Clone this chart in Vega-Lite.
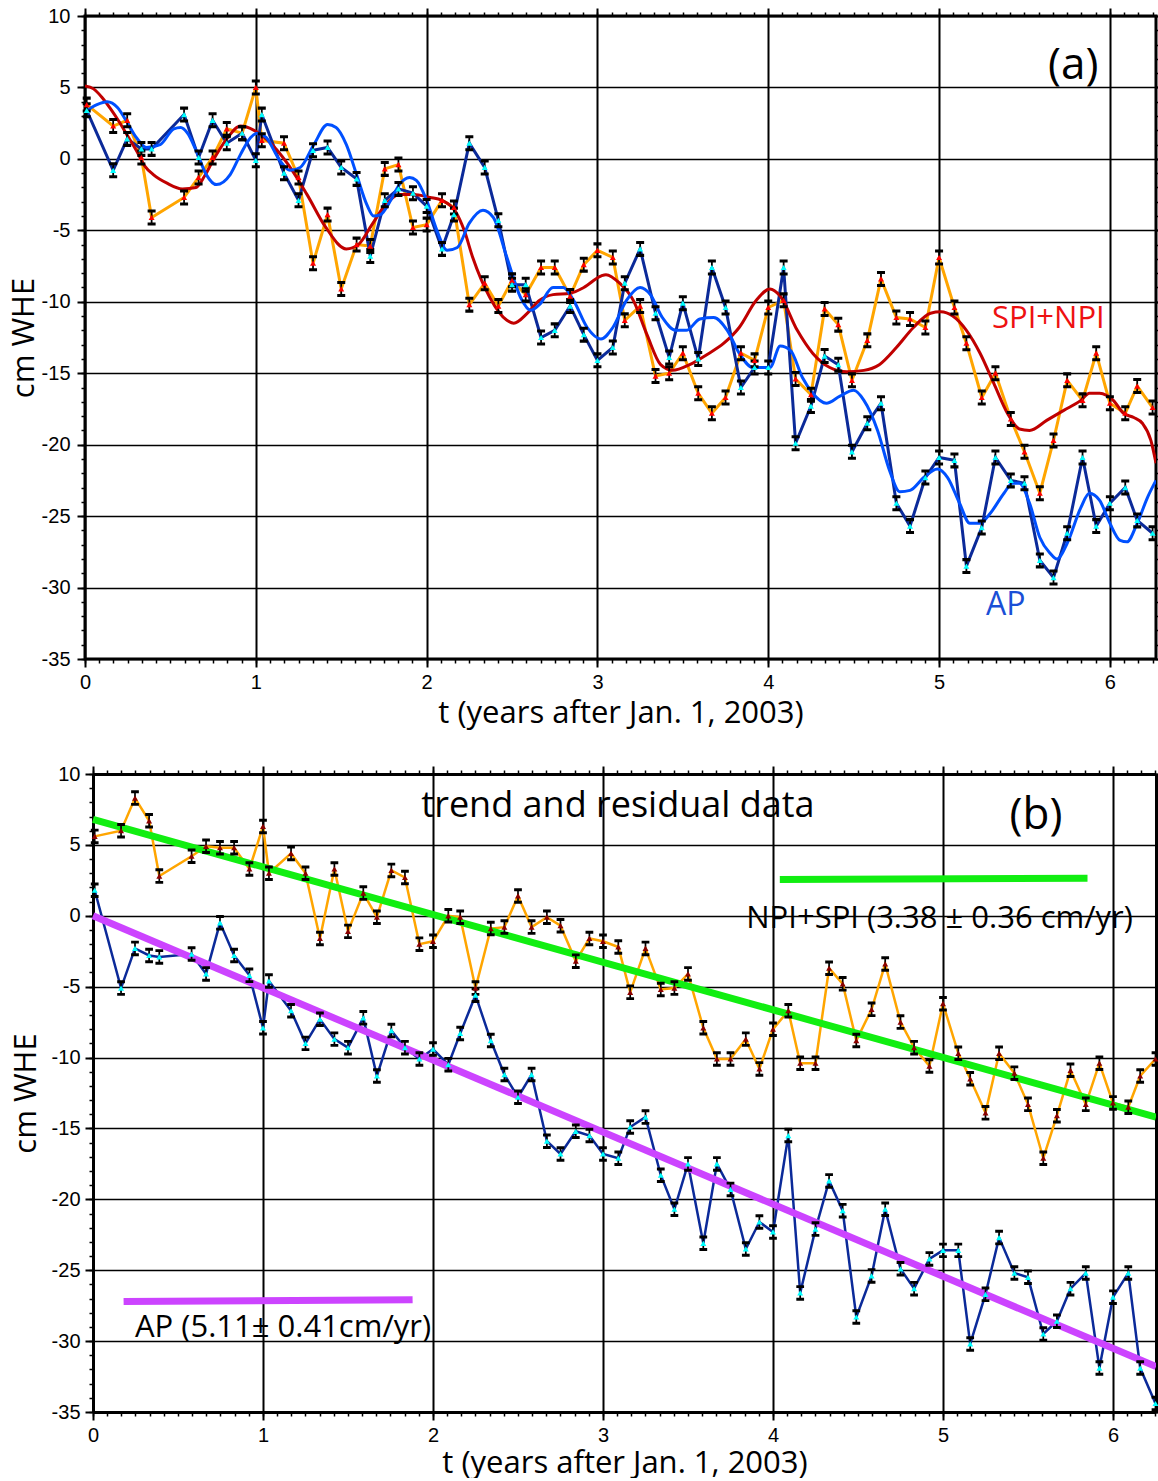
{
  "$schema": "https://vega.github.io/schema/vega-lite/v6.json",
  "background": "white",
  "padding": {"left": 6, "top": 4, "right": 0, "bottom": 0},
  "columns": 1,
  "spacing": 34,
  "config": {
    "view": {"stroke": "black", "strokeWidth": 3},
    "axis": {
      "domain": false, "tickColor": "black", "tickWidth": 2, "gridColor": "black", "gridOpacity": 1,
      "labelFont": "Liberation Sans", "labelFontSize": 20, "labelColor": "black", "labelFlush": false, "labelOverlap": false,
      "titleFont": "Open Sans", "titleFontSize": 31, "titleFontWeight": "normal", "titleColor": "black"
    }
  },
  "datasets": {
    "a_obs": [
      {"t":0.01,"s":"SPI+NPI","v":3.8},{"t":0.165,"s":"SPI+NPI","v":2.3},{"t":0.247,"s":"SPI+NPI","v":2.7},{"t":0.33,"s":"SPI+NPI","v":0.1},{"t":0.39,"s":"SPI+NPI","v":-4.1},{"t":0.58,"s":"SPI+NPI","v":-2.7},{"t":0.665,"s":"SPI+NPI","v":-1.3},{"t":0.747,"s":"SPI+NPI","v":0.1},{"t":0.83,"s":"SPI+NPI","v":2.1},{"t":0.92,"s":"SPI+NPI","v":1.8},
      {"t":1.0,"s":"SPI+NPI","v":5.0},{"t":1.035,"s":"SPI+NPI","v":1.3},{"t":1.165,"s":"SPI+NPI","v":1.1},{"t":1.25,"s":"SPI+NPI","v":-1.3},{"t":1.335,"s":"SPI+NPI","v":-7.3},{"t":1.42,"s":"SPI+NPI","v":-3.9},{"t":1.5,"s":"SPI+NPI","v":-9.1},{"t":1.59,"s":"SPI+NPI","v":-6.0},{"t":1.67,"s":"SPI+NPI","v":-6.1},{"t":1.755,"s":"SPI+NPI","v":-0.7},
      {"t":1.835,"s":"SPI+NPI","v":-0.4},{"t":1.92,"s":"SPI+NPI","v":-4.8},{"t":2.0,"s":"SPI+NPI","v":-4.6},{"t":2.09,"s":"SPI+NPI","v":-2.9},{"t":2.16,"s":"SPI+NPI","v":-3.4},{"t":2.25,"s":"SPI+NPI","v":-10.2},{"t":2.34,"s":"SPI+NPI","v":-8.7},{"t":2.42,"s":"SPI+NPI","v":-10.3},{"t":2.5,"s":"SPI+NPI","v":-8.5},{"t":2.58,"s":"SPI+NPI","v":-9.5},
      {"t":2.67,"s":"SPI+NPI","v":-7.6},{"t":2.75,"s":"SPI+NPI","v":-7.6},{"t":2.84,"s":"SPI+NPI","v":-9.6},{"t":2.92,"s":"SPI+NPI","v":-7.4},{"t":3.0,"s":"SPI+NPI","v":-6.4},{"t":3.09,"s":"SPI+NPI","v":-6.9},{"t":3.16,"s":"SPI+NPI","v":-11.3},{"t":3.25,"s":"SPI+NPI","v":-10.3},{"t":3.34,"s":"SPI+NPI","v":-15.2},{"t":3.42,"s":"SPI+NPI","v":-15.0},
      {"t":3.5,"s":"SPI+NPI","v":-13.6},{"t":3.59,"s":"SPI+NPI","v":-16.4},{"t":3.67,"s":"SPI+NPI","v":-17.8},{"t":3.75,"s":"SPI+NPI","v":-16.7},{"t":3.84,"s":"SPI+NPI","v":-13.6},{"t":3.92,"s":"SPI+NPI","v":-14.1},{"t":4.0,"s":"SPI+NPI","v":-10.4},{"t":4.09,"s":"SPI+NPI","v":-9.9},{"t":4.16,"s":"SPI+NPI","v":-15.4},{"t":4.25,"s":"SPI+NPI","v":-16.5},
      {"t":4.33,"s":"SPI+NPI","v":-10.5},{"t":4.41,"s":"SPI+NPI","v":-11.6},{"t":4.49,"s":"SPI+NPI","v":-15.5},{"t":4.58,"s":"SPI+NPI","v":-12.7},{"t":4.66,"s":"SPI+NPI","v":-8.4},{"t":4.75,"s":"SPI+NPI","v":-11.1},{"t":4.83,"s":"SPI+NPI","v":-11.2},{"t":4.92,"s":"SPI+NPI","v":-11.8},{"t":5.0,"s":"SPI+NPI","v":-6.9},{"t":5.09,"s":"SPI+NPI","v":-10.4},
      {"t":5.16,"s":"SPI+NPI","v":-12.9},{"t":5.25,"s":"SPI+NPI","v":-16.7},{"t":5.33,"s":"SPI+NPI","v":-15.0},{"t":5.42,"s":"SPI+NPI","v":-18.2},{"t":5.5,"s":"SPI+NPI","v":-20.5},{"t":5.59,"s":"SPI+NPI","v":-23.4},{"t":5.67,"s":"SPI+NPI","v":-19.7},{"t":5.75,"s":"SPI+NPI","v":-15.5},{"t":5.84,"s":"SPI+NPI","v":-16.9},{"t":5.92,"s":"SPI+NPI","v":-13.6},
      {"t":6.0,"s":"SPI+NPI","v":-17.1},{"t":6.09,"s":"SPI+NPI","v":-17.8},{"t":6.16,"s":"SPI+NPI","v":-15.9},{"t":6.25,"s":"SPI+NPI","v":-17.4},
      {"t":0.01,"s":"AP","v":3.4},{"t":0.165,"s":"AP","v":-0.8},{"t":0.247,"s":"AP","v":1.4},{"t":0.33,"s":"AP","v":0.7},{"t":0.39,"s":"AP","v":0.7},{"t":0.58,"s":"AP","v":3.1},{"t":0.665,"s":"AP","v":0.1},{"t":0.747,"s":"AP","v":2.7},{"t":0.83,"s":"AP","v":1.1},{"t":0.92,"s":"AP","v":1.8},
      {"t":1.0,"s":"AP","v":-0.1},{"t":1.035,"s":"AP","v":3.1},{"t":1.165,"s":"AP","v":-1.0},{"t":1.25,"s":"AP","v":-2.9},{"t":1.335,"s":"AP","v":0.6},{"t":1.42,"s":"AP","v":0.8},{"t":1.5,"s":"AP","v":-0.6},{"t":1.59,"s":"AP","v":-1.4},{"t":1.67,"s":"AP","v":-6.8},{"t":1.755,"s":"AP","v":-2.9},
      {"t":1.835,"s":"AP","v":-2.1},{"t":1.92,"s":"AP","v":-2.4},{"t":2.0,"s":"AP","v":-3.3},{"t":2.09,"s":"AP","v":-6.3},{"t":2.16,"s":"AP","v":-3.9},{"t":2.25,"s":"AP","v":1.1},{"t":2.34,"s":"AP","v":-0.6},{"t":2.42,"s":"AP","v":-4.3},{"t":2.5,"s":"AP","v":-8.8},{"t":2.58,"s":"AP","v":-8.8},
      {"t":2.67,"s":"AP","v":-12.5},{"t":2.75,"s":"AP","v":-12.0},{"t":2.84,"s":"AP","v":-10.3},{"t":2.92,"s":"AP","v":-12.3},{"t":3.0,"s":"AP","v":-14.1},{"t":3.09,"s":"AP","v":-13.2},{"t":3.16,"s":"AP","v":-8.7},{"t":3.25,"s":"AP","v":-6.3},{"t":3.34,"s":"AP","v":-10.8},{"t":3.42,"s":"AP","v":-13.9},
      {"t":3.5,"s":"AP","v":-10.1},{"t":3.59,"s":"AP","v":-14.0},{"t":3.67,"s":"AP","v":-7.6},{"t":3.75,"s":"AP","v":-10.4},{"t":3.84,"s":"AP","v":-16.0},{"t":3.92,"s":"AP","v":-14.6},{"t":4.0,"s":"AP","v":-14.6},{"t":4.09,"s":"AP","v":-7.6},{"t":4.16,"s":"AP","v":-19.9},{"t":4.25,"s":"AP","v":-17.3},
      {"t":4.33,"s":"AP","v":-13.8},{"t":4.41,"s":"AP","v":-14.4},{"t":4.49,"s":"AP","v":-20.5},{"t":4.58,"s":"AP","v":-18.5},{"t":4.66,"s":"AP","v":-17.1},{"t":4.75,"s":"AP","v":-24.1},{"t":4.83,"s":"AP","v":-25.7},{"t":4.92,"s":"AP","v":-22.3},{"t":5.0,"s":"AP","v":-20.9},{"t":5.09,"s":"AP","v":-21.1},
      {"t":5.16,"s":"AP","v":-28.5},{"t":5.25,"s":"AP","v":-25.8},{"t":5.33,"s":"AP","v":-20.9},{"t":5.42,"s":"AP","v":-22.5},{"t":5.5,"s":"AP","v":-22.7},{"t":5.59,"s":"AP","v":-28.1},{"t":5.67,"s":"AP","v":-29.3},{"t":5.75,"s":"AP","v":-26.2},{"t":5.84,"s":"AP","v":-20.9},{"t":5.92,"s":"AP","v":-25.7},
      {"t":6.0,"s":"AP","v":-24.1},{"t":6.09,"s":"AP","v":-23.0},{"t":6.16,"s":"AP","v":-25.3},{"t":6.25,"s":"AP","v":-26.2}
    ],
    "a_smooth": [
      {"t":0.0,"s":"SPI+NPI","v":5.1},{"t":0.05,"s":"SPI+NPI","v":4.9},{"t":0.1,"s":"SPI+NPI","v":4.3},{"t":0.15,"s":"SPI+NPI","v":3.5},{"t":0.2,"s":"SPI+NPI","v":2.6},{"t":0.25,"s":"SPI+NPI","v":1.6},{"t":0.3,"s":"SPI+NPI","v":0.6},{"t":0.35,"s":"SPI+NPI","v":-0.5},{"t":0.4,"s":"SPI+NPI","v":-1.1},{"t":0.48,"s":"SPI+NPI","v":-1.7},
      {"t":0.57,"s":"SPI+NPI","v":-2.1},{"t":0.65,"s":"SPI+NPI","v":-2.0},{"t":0.7,"s":"SPI+NPI","v":-1.2},{"t":0.75,"s":"SPI+NPI","v":-0.1},{"t":0.83,"s":"SPI+NPI","v":1.4},{"t":0.91,"s":"SPI+NPI","v":2.3},{"t":0.99,"s":"SPI+NPI","v":2.0},{"t":1.07,"s":"SPI+NPI","v":1.3},{"t":1.19,"s":"SPI+NPI","v":-0.4},{"t":1.3,"s":"SPI+NPI","v":-2.5},
      {"t":1.41,"s":"SPI+NPI","v":-4.8},{"t":1.53,"s":"SPI+NPI","v":-6.3},{"t":1.6,"s":"SPI+NPI","v":-6.0},{"t":1.68,"s":"SPI+NPI","v":-4.6},{"t":1.76,"s":"SPI+NPI","v":-3.2},{"t":1.84,"s":"SPI+NPI","v":-2.5},{"t":1.92,"s":"SPI+NPI","v":-2.5},{"t":2.02,"s":"SPI+NPI","v":-2.7},{"t":2.09,"s":"SPI+NPI","v":-2.9},{"t":2.17,"s":"SPI+NPI","v":-3.7},
      {"t":2.22,"s":"SPI+NPI","v":-5.0},{"t":2.27,"s":"SPI+NPI","v":-6.9},{"t":2.37,"s":"SPI+NPI","v":-9.7},{"t":2.47,"s":"SPI+NPI","v":-11.3},{"t":2.51,"s":"SPI+NPI","v":-11.5},{"t":2.59,"s":"SPI+NPI","v":-10.8},{"t":2.66,"s":"SPI+NPI","v":-9.9},{"t":2.74,"s":"SPI+NPI","v":-9.5},{"t":2.84,"s":"SPI+NPI","v":-9.4},{"t":2.92,"s":"SPI+NPI","v":-9.0},
      {"t":3.02,"s":"SPI+NPI","v":-8.2},{"t":3.05,"s":"SPI+NPI","v":-8.1},{"t":3.13,"s":"SPI+NPI","v":-8.7},{"t":3.21,"s":"SPI+NPI","v":-9.9},{"t":3.29,"s":"SPI+NPI","v":-12.3},{"t":3.37,"s":"SPI+NPI","v":-14.4},{"t":3.44,"s":"SPI+NPI","v":-14.8},{"t":3.54,"s":"SPI+NPI","v":-14.4},{"t":3.64,"s":"SPI+NPI","v":-13.7},{"t":3.74,"s":"SPI+NPI","v":-12.9},
      {"t":3.83,"s":"SPI+NPI","v":-11.8},{"t":3.93,"s":"SPI+NPI","v":-9.9},{"t":4.01,"s":"SPI+NPI","v":-9.1},{"t":4.07,"s":"SPI+NPI","v":-9.6},{"t":4.17,"s":"SPI+NPI","v":-12.0},{"t":4.26,"s":"SPI+NPI","v":-13.6},{"t":4.36,"s":"SPI+NPI","v":-14.6},{"t":4.46,"s":"SPI+NPI","v":-14.9},{"t":4.56,"s":"SPI+NPI","v":-14.8},{"t":4.65,"s":"SPI+NPI","v":-14.4},
      {"t":4.75,"s":"SPI+NPI","v":-13.2},{"t":4.85,"s":"SPI+NPI","v":-11.8},{"t":4.95,"s":"SPI+NPI","v":-10.8},{"t":5.01,"s":"SPI+NPI","v":-10.7},{"t":5.08,"s":"SPI+NPI","v":-11.0},{"t":5.16,"s":"SPI+NPI","v":-12.0},{"t":5.24,"s":"SPI+NPI","v":-13.6},{"t":5.32,"s":"SPI+NPI","v":-15.7},{"t":5.4,"s":"SPI+NPI","v":-17.8},{"t":5.47,"s":"SPI+NPI","v":-18.9},
      {"t":5.53,"s":"SPI+NPI","v":-19.0},{"t":5.63,"s":"SPI+NPI","v":-18.3},{"t":5.73,"s":"SPI+NPI","v":-17.6},{"t":5.83,"s":"SPI+NPI","v":-16.9},{"t":5.88,"s":"SPI+NPI","v":-16.4},{"t":5.94,"s":"SPI+NPI","v":-16.4},{"t":6.02,"s":"SPI+NPI","v":-16.9},{"t":6.08,"s":"SPI+NPI","v":-17.8},{"t":6.14,"s":"SPI+NPI","v":-18.1},{"t":6.19,"s":"SPI+NPI","v":-18.5},
      {"t":6.24,"s":"SPI+NPI","v":-19.7},{"t":6.27,"s":"SPI+NPI","v":-21.3},
      {"t":0.0,"s":"AP","v":3.3},{"t":0.07,"s":"AP","v":3.8},{"t":0.13,"s":"AP","v":4.0},{"t":0.19,"s":"AP","v":3.6},{"t":0.24,"s":"AP","v":2.7},{"t":0.3,"s":"AP","v":1.5},{"t":0.36,"s":"AP","v":0.8},{"t":0.44,"s":"AP","v":1.0},{"t":0.52,"s":"AP","v":2.1},{"t":0.56,"s":"AP","v":2.2},
      {"t":0.6,"s":"AP","v":1.8},{"t":0.65,"s":"AP","v":0.6},{"t":0.71,"s":"AP","v":-1.1},{"t":0.77,"s":"AP","v":-1.8},{"t":0.85,"s":"AP","v":-1.1},{"t":0.91,"s":"AP","v":0.3},{"t":0.97,"s":"AP","v":1.5},{"t":1.01,"s":"AP","v":1.8},{"t":1.06,"s":"AP","v":1.5},{"t":1.14,"s":"AP","v":-0.1},
      {"t":1.2,"s":"AP","v":-0.8},{"t":1.26,"s":"AP","v":-0.6},{"t":1.34,"s":"AP","v":1.0},{"t":1.42,"s":"AP","v":2.4},{"t":1.47,"s":"AP","v":2.2},{"t":1.53,"s":"AP","v":1.0},{"t":1.59,"s":"AP","v":-1.1},{"t":1.65,"s":"AP","v":-3.2},{"t":1.69,"s":"AP","v":-4.0},{"t":1.73,"s":"AP","v":-3.9},
      {"t":1.79,"s":"AP","v":-2.9},{"t":1.84,"s":"AP","v":-1.8},{"t":1.9,"s":"AP","v":-1.3},{"t":1.94,"s":"AP","v":-1.5},{"t":2.0,"s":"AP","v":-2.9},{"t":2.06,"s":"AP","v":-5.0},{"t":2.12,"s":"AP","v":-6.4},{"t":2.18,"s":"AP","v":-6.2},{"t":2.25,"s":"AP","v":-4.5},{"t":2.33,"s":"AP","v":-3.6},
      {"t":2.39,"s":"AP","v":-4.1},{"t":2.47,"s":"AP","v":-6.9},{"t":2.55,"s":"AP","v":-9.7},{"t":2.61,"s":"AP","v":-10.6},{"t":2.66,"s":"AP","v":-10.2},{"t":2.74,"s":"AP","v":-9.0},{"t":2.8,"s":"AP","v":-9.0},{"t":2.86,"s":"AP","v":-9.9},{"t":2.94,"s":"AP","v":-11.8},{"t":3.02,"s":"AP","v":-12.6},
      {"t":3.09,"s":"AP","v":-11.8},{"t":3.17,"s":"AP","v":-9.9},{"t":3.25,"s":"AP","v":-9.0},{"t":3.31,"s":"AP","v":-9.5},{"t":3.38,"s":"AP","v":-11.1},{"t":3.46,"s":"AP","v":-12.0},{"t":3.52,"s":"AP","v":-12.0},{"t":3.6,"s":"AP","v":-11.2},{"t":3.68,"s":"AP","v":-11.1},{"t":3.76,"s":"AP","v":-12.0},
      {"t":3.83,"s":"AP","v":-13.6},{"t":3.91,"s":"AP","v":-14.6},{"t":4.01,"s":"AP","v":-14.6},{"t":4.07,"s":"AP","v":-13.1},{"t":4.13,"s":"AP","v":-13.4},{"t":4.2,"s":"AP","v":-15.3},{"t":4.26,"s":"AP","v":-16.4},{"t":4.34,"s":"AP","v":-17.1},{"t":4.42,"s":"AP","v":-16.6},{"t":4.5,"s":"AP","v":-16.2},
      {"t":4.56,"s":"AP","v":-16.9},{"t":4.64,"s":"AP","v":-19.0},{"t":4.71,"s":"AP","v":-21.8},{"t":4.77,"s":"AP","v":-23.3},{"t":4.83,"s":"AP","v":-23.2},{"t":4.91,"s":"AP","v":-22.3},{"t":4.99,"s":"AP","v":-21.7},{"t":5.05,"s":"AP","v":-22.3},{"t":5.12,"s":"AP","v":-24.1},{"t":5.18,"s":"AP","v":-25.5},
      {"t":5.24,"s":"AP","v":-25.5},{"t":5.3,"s":"AP","v":-24.8},{"t":5.38,"s":"AP","v":-23.4},{"t":5.43,"s":"AP","v":-22.7},{"t":5.47,"s":"AP","v":-22.7},{"t":5.53,"s":"AP","v":-24.1},{"t":5.59,"s":"AP","v":-26.5},{"t":5.65,"s":"AP","v":-27.6},{"t":5.69,"s":"AP","v":-28.0},{"t":5.75,"s":"AP","v":-26.9},
      {"t":5.83,"s":"AP","v":-24.4},{"t":5.88,"s":"AP","v":-23.4},{"t":5.94,"s":"AP","v":-23.9},{"t":6.0,"s":"AP","v":-25.5},{"t":6.06,"s":"AP","v":-26.7},{"t":6.1,"s":"AP","v":-26.8},{"t":6.16,"s":"AP","v":-25.5},{"t":6.22,"s":"AP","v":-23.7},{"t":6.27,"s":"AP","v":-22.5}
    ],
    "b_obs": [
      {"t":0.01,"s":"SPI+NPI","v":5.6},{"t":0.165,"s":"SPI+NPI","v":6.0},{"t":0.247,"s":"SPI+NPI","v":8.3},{"t":0.33,"s":"SPI+NPI","v":6.7},{"t":0.39,"s":"SPI+NPI","v":2.8},{"t":0.58,"s":"SPI+NPI","v":4.2},{"t":0.665,"s":"SPI+NPI","v":4.9},{"t":0.747,"s":"SPI+NPI","v":4.8},{"t":0.83,"s":"SPI+NPI","v":4.8},{"t":0.92,"s":"SPI+NPI","v":3.3},
      {"t":1.0,"s":"SPI+NPI","v":6.3},{"t":1.035,"s":"SPI+NPI","v":3.0},{"t":1.165,"s":"SPI+NPI","v":4.4},{"t":1.25,"s":"SPI+NPI","v":3.0},{"t":1.335,"s":"SPI+NPI","v":-1.6},{"t":1.42,"s":"SPI+NPI","v":3.3},{"t":1.5,"s":"SPI+NPI","v":-1.1},{"t":1.59,"s":"SPI+NPI","v":1.6},{"t":1.67,"s":"SPI+NPI","v":-0.1},{"t":1.755,"s":"SPI+NPI","v":3.2},
      {"t":1.835,"s":"SPI+NPI","v":2.7},{"t":1.92,"s":"SPI+NPI","v":-2.0},{"t":2.0,"s":"SPI+NPI","v":-1.8},{"t":2.09,"s":"SPI+NPI","v":0.0},{"t":2.16,"s":"SPI+NPI","v":-0.1},{"t":2.25,"s":"SPI+NPI","v":-5.1},{"t":2.34,"s":"SPI+NPI","v":-0.9},{"t":2.42,"s":"SPI+NPI","v":-0.8},{"t":2.5,"s":"SPI+NPI","v":1.4},{"t":2.58,"s":"SPI+NPI","v":-0.8},
      {"t":2.67,"s":"SPI+NPI","v":-0.1},{"t":2.75,"s":"SPI+NPI","v":-0.7},{"t":2.84,"s":"SPI+NPI","v":-3.2},{"t":2.92,"s":"SPI+NPI","v":-1.6},{"t":3.0,"s":"SPI+NPI","v":-1.8},{"t":3.09,"s":"SPI+NPI","v":-2.2},{"t":3.16,"s":"SPI+NPI","v":-5.4},{"t":3.25,"s":"SPI+NPI","v":-2.3},{"t":3.34,"s":"SPI+NPI","v":-5.2},{"t":3.42,"s":"SPI+NPI","v":-5.1},
      {"t":3.5,"s":"SPI+NPI","v":-4.1},{"t":3.59,"s":"SPI+NPI","v":-7.9},{"t":3.67,"s":"SPI+NPI","v":-10.1},{"t":3.75,"s":"SPI+NPI","v":-10.1},{"t":3.84,"s":"SPI+NPI","v":-8.7},{"t":3.92,"s":"SPI+NPI","v":-10.8},{"t":4.0,"s":"SPI+NPI","v":-8.0},{"t":4.09,"s":"SPI+NPI","v":-6.7},{"t":4.16,"s":"SPI+NPI","v":-10.4},{"t":4.25,"s":"SPI+NPI","v":-10.4},
      {"t":4.33,"s":"SPI+NPI","v":-3.7},{"t":4.41,"s":"SPI+NPI","v":-4.8},{"t":4.49,"s":"SPI+NPI","v":-8.8},{"t":4.58,"s":"SPI+NPI","v":-6.6},{"t":4.66,"s":"SPI+NPI","v":-3.4},{"t":4.75,"s":"SPI+NPI","v":-7.5},{"t":4.83,"s":"SPI+NPI","v":-9.3},{"t":4.92,"s":"SPI+NPI","v":-10.6},{"t":5.0,"s":"SPI+NPI","v":-6.2},{"t":5.09,"s":"SPI+NPI","v":-9.7},
      {"t":5.16,"s":"SPI+NPI","v":-11.5},{"t":5.25,"s":"SPI+NPI","v":-13.9},{"t":5.33,"s":"SPI+NPI","v":-9.7},{"t":5.42,"s":"SPI+NPI","v":-11.1},{"t":5.5,"s":"SPI+NPI","v":-13.3},{"t":5.59,"s":"SPI+NPI","v":-17.1},{"t":5.67,"s":"SPI+NPI","v":-14.1},{"t":5.75,"s":"SPI+NPI","v":-10.9},{"t":5.84,"s":"SPI+NPI","v":-13.3},{"t":5.92,"s":"SPI+NPI","v":-10.4},
      {"t":6.0,"s":"SPI+NPI","v":-13.2},{"t":6.09,"s":"SPI+NPI","v":-13.5},{"t":6.16,"s":"SPI+NPI","v":-11.3},{"t":6.25,"s":"SPI+NPI","v":-10.1},
      {"t":0.01,"s":"AP","v":1.8},{"t":0.165,"s":"AP","v":-5.1},{"t":0.247,"s":"AP","v":-2.3},{"t":0.33,"s":"AP","v":-2.8},{"t":0.39,"s":"AP","v":-2.9},{"t":0.58,"s":"AP","v":-2.7},{"t":0.665,"s":"AP","v":-4.1},{"t":0.747,"s":"AP","v":-0.5},{"t":0.83,"s":"AP","v":-2.8},{"t":0.92,"s":"AP","v":-4.2},
      {"t":1.0,"s":"AP","v":-7.9},{"t":1.035,"s":"AP","v":-4.6},{"t":1.165,"s":"AP","v":-6.7},{"t":1.25,"s":"AP","v":-9.0},{"t":1.335,"s":"AP","v":-7.3},{"t":1.42,"s":"AP","v":-8.7},{"t":1.5,"s":"AP","v":-9.3},{"t":1.59,"s":"AP","v":-7.2},{"t":1.67,"s":"AP","v":-11.3},{"t":1.755,"s":"AP","v":-8.1},
      {"t":1.835,"s":"AP","v":-9.3},{"t":1.92,"s":"AP","v":-10.1},{"t":2.0,"s":"AP","v":-9.4},{"t":2.09,"s":"AP","v":-10.5},{"t":2.16,"s":"AP","v":-8.3},{"t":2.25,"s":"AP","v":-5.6},{"t":2.34,"s":"AP","v":-8.8},{"t":2.42,"s":"AP","v":-11.2},{"t":2.5,"s":"AP","v":-12.8},{"t":2.58,"s":"AP","v":-11.2},
      {"t":2.67,"s":"AP","v":-15.9},{"t":2.75,"s":"AP","v":-16.8},{"t":2.84,"s":"AP","v":-15.2},{"t":2.92,"s":"AP","v":-15.5},{"t":3.0,"s":"AP","v":-16.8},{"t":3.09,"s":"AP","v":-17.1},{"t":3.16,"s":"AP","v":-14.9},{"t":3.25,"s":"AP","v":-14.2},{"t":3.34,"s":"AP","v":-18.3},{"t":3.42,"s":"AP","v":-20.7},
      {"t":3.5,"s":"AP","v":-17.5},{"t":3.59,"s":"AP","v":-23.1},{"t":3.67,"s":"AP","v":-17.5},{"t":3.75,"s":"AP","v":-19.3},{"t":3.84,"s":"AP","v":-23.5},{"t":3.92,"s":"AP","v":-21.6},{"t":4.0,"s":"AP","v":-22.3},{"t":4.09,"s":"AP","v":-15.5},{"t":4.16,"s":"AP","v":-26.6},{"t":4.25,"s":"AP","v":-22.1},
      {"t":4.33,"s":"AP","v":-18.7},{"t":4.41,"s":"AP","v":-20.8},{"t":4.49,"s":"AP","v":-28.3},{"t":4.58,"s":"AP","v":-25.4},{"t":4.66,"s":"AP","v":-20.7},{"t":4.75,"s":"AP","v":-24.9},{"t":4.83,"s":"AP","v":-26.3},{"t":4.92,"s":"AP","v":-24.2},{"t":5.0,"s":"AP","v":-23.6},{"t":5.09,"s":"AP","v":-23.6},
      {"t":5.16,"s":"AP","v":-30.2},{"t":5.25,"s":"AP","v":-26.7},{"t":5.33,"s":"AP","v":-22.7},{"t":5.42,"s":"AP","v":-25.2},{"t":5.5,"s":"AP","v":-25.5},{"t":5.59,"s":"AP","v":-29.5},{"t":5.67,"s":"AP","v":-28.6},{"t":5.75,"s":"AP","v":-26.3},{"t":5.84,"s":"AP","v":-25.2},{"t":5.92,"s":"AP","v":-31.9},
      {"t":6.0,"s":"AP","v":-26.9},{"t":6.09,"s":"AP","v":-25.2},{"t":6.16,"s":"AP","v":-31.9},{"t":6.25,"s":"AP","v":-34.4}
    ],
    "b_trend": [
      {"t":0.0,"s":"SPI+NPI","v":6.8},{"t":6.253,"s":"SPI+NPI","v":-14.2},
      {"t":0.0,"s":"AP","v":0.0},{"t":6.253,"s":"AP","v":-31.8}
    ],
    "b_key": [
      {"t":4.04,"s":"SPI+NPI","v":2.55},{"t":5.85,"s":"SPI+NPI","v":2.65},
      {"t":0.18,"s":"AP","v":-27.2},{"t":1.88,"s":"AP","v":-27.08}
    ]
  },
  "concat": [
    {
      "width": 1071,
      "height": 643,
      "resolve": {"scale": {"color": "independent"}, "axis": {"x": "independent", "y": "independent"}},
      "layer": [
        {
          "data": {"name": "a_obs"},
          "mark": {"type": "line", "strokeWidth": 3, "clip": true},
          "encoding": {
            "x": {"field": "t", "type": "quantitative", "scale": {"domain": [0, 6.27], "nice": false, "zero": false},
              "axis": {"orient": "top", "values": [0,1,2,3,4,5,6], "grid": false, "labels": false, "tickSize": 8, "title": null}},
            "y": {"field": "v", "type": "quantitative", "scale": {"domain": [-35, 10], "nice": false, "zero": false},
              "axis": {"orient": "right", "values": [-35,-30,-25,-20,-15,-10,-5,0,5,10], "grid": false, "labels": false, "tickSize": 8, "title": null}},
            "color": {"field": "s", "type": "nominal", "scale": {"domain": ["SPI+NPI", "AP"], "range": ["#FFA500", "#0B2A99"]}, "legend": null}
          }
        },
        {
          "data": {"name": "a_smooth"},
          "mark": {"type": "line", "strokeWidth": 3, "clip": true, "interpolate": "monotone"},
          "encoding": {
            "x": {"field": "t", "type": "quantitative", "scale": {"domain": [0, 6.27], "nice": false, "zero": false},
              "axis": {"orient": "bottom", "values": [0,1,2,3,4,5,6], "grid": true, "gridWidth": 2, "tickSize": 8, "labelPadding": 5, "labelExpr": "'' + datum.value", "title": "t (years after Jan. 1, 2003)", "titlePadding": 6}},
            "y": {"field": "v", "type": "quantitative", "scale": {"domain": [-35, 10], "nice": false, "zero": false},
              "axis": {"orient": "left", "values": [-35,-30,-25,-20,-15,-10,-5,0,5,10], "grid": true, "gridWidth": 1.5, "tickSize": 8, "labelPadding": 7, "labelExpr": "'' + datum.value", "title": "cm WHE", "titlePadding": 1}},
            "color": {"field": "s", "type": "nominal", "scale": {"domain": ["SPI+NPI", "AP"], "range": ["#C00000", "#0050FF"]}, "legend": null}
          }
        },
        {
          "data": {"name": "a_obs"},
          "mark": {"type": "point", "shape": "M-0.5,-1H0.5V-0.62H0.11V0.62H0.5V1H-0.5V0.62H-0.11V-0.62H-0.5Z", "filled": true, "color": "black", "size": 256, "opacity": 1, "strokeWidth": 0},
          "encoding": {
            "x": {"field": "t", "type": "quantitative", "scale": {"domain": [0, 6.27], "nice": false, "zero": false},
              "axis": {"orient": "bottom", "values": [0,0.0833,0.1667,0.25,0.3333,0.4167,0.5,0.5833,0.6667,0.75,0.8333,0.9167,1,1.0833,1.1667,1.25,1.3333,1.4167,1.5,1.5833,1.6667,1.75,1.8333,1.9167,2,2.0833,2.1667,2.25,2.3333,2.4167,2.5,2.5833,2.6667,2.75,2.8333,2.9167,3,3.0833,3.1667,3.25,3.3333,3.4167,3.5,3.5833,3.6667,3.75,3.8333,3.9167,4,4.0833,4.1667,4.25,4.3333,4.4167,4.5,4.5833,4.6667,4.75,4.8333,4.9167,5,5.0833,5.1667,5.25,5.3333,5.4167,5.5,5.5833,5.6667,5.75,5.8333,5.9167,6,6.0833,6.1667,6.25], "grid": false, "labels": false, "tickSize": 4, "tickWidth": 1.5, "title": null}},
            "y": {"field": "v", "type": "quantitative", "scale": {"domain": [-35, 10], "nice": false, "zero": false},
              "axis": {"orient": "left", "values": [-35,-34,-33,-32,-31,-30,-29,-28,-27,-26,-25,-24,-23,-22,-21,-20,-19,-18,-17,-16,-15,-14,-13,-12,-11,-10,-9,-8,-7,-6,-5,-4,-3,-2,-1,0,1,2,3,4,5,6,7,8,9,10], "grid": false, "labels": false, "tickSize": 4, "tickWidth": 1.5, "title": null}}
          }
        },
        {
          "data": {"name": "a_obs"},
          "mark": {"type": "point", "shape": "triangle-up", "filled": true, "size": 36, "opacity": 1, "strokeWidth": 0},
          "encoding": {
            "x": {"field": "t", "type": "quantitative", "scale": {"domain": [0, 6.27], "nice": false, "zero": false},
              "axis": {"orient": "top", "values": [0,0.0833,0.1667,0.25,0.3333,0.4167,0.5,0.5833,0.6667,0.75,0.8333,0.9167,1,1.0833,1.1667,1.25,1.3333,1.4167,1.5,1.5833,1.6667,1.75,1.8333,1.9167,2,2.0833,2.1667,2.25,2.3333,2.4167,2.5,2.5833,2.6667,2.75,2.8333,2.9167,3,3.0833,3.1667,3.25,3.3333,3.4167,3.5,3.5833,3.6667,3.75,3.8333,3.9167,4,4.0833,4.1667,4.25,4.3333,4.4167,4.5,4.5833,4.6667,4.75,4.8333,4.9167,5,5.0833,5.1667,5.25,5.3333,5.4167,5.5,5.5833,5.6667,5.75,5.8333,5.9167,6,6.0833,6.1667,6.25], "grid": false, "labels": false, "tickSize": 4, "tickWidth": 1.5, "title": null}},
            "y": {"field": "v", "type": "quantitative", "scale": {"domain": [-35, 10], "nice": false, "zero": false},
              "axis": {"orient": "right", "values": [-35,-34,-33,-32,-31,-30,-29,-28,-27,-26,-25,-24,-23,-22,-21,-20,-19,-18,-17,-16,-15,-14,-13,-12,-11,-10,-9,-8,-7,-6,-5,-4,-3,-2,-1,0,1,2,3,4,5,6,7,8,9,10], "grid": false, "labels": false, "tickSize": 4, "tickWidth": 1.5, "title": null}},
            "color": {"field": "s", "type": "nominal", "scale": {"domain": ["SPI+NPI", "AP"], "range": ["#FF0000", "#00FFFF"]}, "legend": null}
          }
        },
        {
          "data": {"values": [{"t": 5.785, "v": 6.5, "label": "(a)"}]},
          "mark": {"type": "text", "font": "Open Sans", "fontSize": 44, "color": "black", "baseline": "middle", "align": "center"},
          "encoding": {
            "x": {"field": "t", "type": "quantitative", "scale": {"domain": [0, 6.27], "nice": false, "zero": false}, "axis": null},
            "y": {"field": "v", "type": "quantitative", "scale": {"domain": [-35, 10], "nice": false, "zero": false}, "axis": null},
            "text": {"field": "label"}
          }
        },
        {
          "data": {"values": [{"t": 5.64, "v": -11.2, "label": "SPI+NPI"}]},
          "mark": {"type": "text", "font": "Open Sans", "fontSize": 31, "color": "#EE1111", "baseline": "middle", "align": "center"},
          "encoding": {
            "x": {"field": "t", "type": "quantitative", "scale": {"domain": [0, 6.27], "nice": false, "zero": false}, "axis": null},
            "y": {"field": "v", "type": "quantitative", "scale": {"domain": [-35, 10], "nice": false, "zero": false}, "axis": null},
            "text": {"field": "label"}
          }
        },
        {
          "data": {"values": [{"t": 5.39, "v": -31.2, "label": "AP"}]},
          "mark": {"type": "text", "font": "Open Sans", "fontSize": 32, "color": "#1A4FD6", "baseline": "middle", "align": "center"},
          "encoding": {
            "x": {"field": "t", "type": "quantitative", "scale": {"domain": [0, 6.27], "nice": false, "zero": false}, "axis": null},
            "y": {"field": "v", "type": "quantitative", "scale": {"domain": [-35, 10], "nice": false, "zero": false}, "axis": null},
            "text": {"field": "label"}
          }
        }
      ]
    },
    {
      "width": 1071,
      "height": 638,
      "view": {"stroke": null},
      "resolve": {"scale": {"color": "independent"}, "axis": {"x": "independent", "y": "independent"}},
      "layer": [
        {
          "data": {"name": "b_obs"},
          "mark": {"type": "line", "strokeWidth": 2.5, "clip": true},
          "encoding": {
            "x": {"field": "t", "type": "quantitative", "scale": {"domain": [0, 6.253], "range": [8, 1071], "nice": false, "zero": false},
              "axis": {"orient": "top", "values": [0,1,2,3,4,5,6], "grid": false, "labels": false, "tickSize": 8, "title": null, "domain": true, "domainColor": "black", "domainWidth": 3}},
            "y": {"field": "v", "type": "quantitative", "scale": {"domain": [-35, 10], "nice": false, "zero": false},
              "axis": {"orient": "right", "values": [-35,-30,-25,-20,-15,-10,-5,0,5,10], "grid": false, "labels": false, "tickSize": 8, "title": null, "domain": true, "domainColor": "black", "domainWidth": 3}},
            "color": {"field": "s", "type": "nominal", "scale": {"domain": ["SPI+NPI", "AP"], "range": ["#FFA500", "#0B2A99"]}, "legend": null}
          }
        },
        {
          "data": {"name": "b_trend"},
          "mark": {"type": "line", "strokeWidth": 7, "clip": true},
          "encoding": {
            "x": {"field": "t", "type": "quantitative", "scale": {"domain": [0, 6.253], "range": [8, 1071], "nice": false, "zero": false},
              "axis": {"orient": "bottom", "values": [0,1,2,3,4,5,6], "grid": true, "gridWidth": 2, "tickSize": 8, "labelPadding": 5, "labelExpr": "'' + datum.value", "title": "t (years after Jan. 1, 2003)", "titlePadding": 3, "domain": true, "domainColor": "black", "domainWidth": 3}},
            "y": {"field": "v", "type": "quantitative", "scale": {"domain": [-35, 10], "nice": false, "zero": false},
              "axis": {"orient": "left", "offset": -8, "values": [-35,-30,-25,-20,-15,-10,-5,0,5,10], "grid": true, "gridWidth": 1.5, "tickSize": 8, "labelPadding": 5, "labelExpr": "'' + datum.value", "title": "cm WHE", "titlePadding": 9, "domain": true, "domainColor": "black", "domainWidth": 3}},
            "color": {"field": "s", "type": "nominal", "scale": {"domain": ["SPI+NPI", "AP"], "range": ["#11EE11", "#CC44FF"]}, "legend": null}
          }
        },
        {
          "data": {"name": "b_key"},
          "mark": {"type": "line", "strokeWidth": 7},
          "encoding": {
            "x": {"field": "t", "type": "quantitative", "scale": {"domain": [0, 6.253], "range": [8, 1071], "nice": false, "zero": false}, "axis": null},
            "y": {"field": "v", "type": "quantitative", "scale": {"domain": [-35, 10], "nice": false, "zero": false}, "axis": null},
            "color": {"field": "s", "type": "nominal", "scale": {"domain": ["SPI+NPI", "AP"], "range": ["#11EE11", "#CC44FF"]}, "legend": null}
          }
        },
        {
          "data": {"name": "b_obs"},
          "mark": {"type": "point", "shape": "M-0.5,-1H0.5V-0.62H0.11V0.62H0.5V1H-0.5V0.62H-0.11V-0.62H-0.5Z", "filled": true, "color": "black", "size": 240, "opacity": 1, "strokeWidth": 0},
          "encoding": {
            "x": {"field": "t", "type": "quantitative", "scale": {"domain": [0, 6.253], "range": [8, 1071], "nice": false, "zero": false},
              "axis": {"orient": "bottom", "values": [0,0.0833,0.1667,0.25,0.3333,0.4167,0.5,0.5833,0.6667,0.75,0.8333,0.9167,1,1.0833,1.1667,1.25,1.3333,1.4167,1.5,1.5833,1.6667,1.75,1.8333,1.9167,2,2.0833,2.1667,2.25,2.3333,2.4167,2.5,2.5833,2.6667,2.75,2.8333,2.9167,3,3.0833,3.1667,3.25,3.3333,3.4167,3.5,3.5833,3.6667,3.75,3.8333,3.9167,4,4.0833,4.1667,4.25,4.3333,4.4167,4.5,4.5833,4.6667,4.75,4.8333,4.9167,5,5.0833,5.1667,5.25,5.3333,5.4167,5.5,5.5833,5.6667,5.75,5.8333,5.9167,6,6.0833,6.1667,6.25], "grid": false, "labels": false, "tickSize": 4, "tickWidth": 1.5, "title": null}},
            "y": {"field": "v", "type": "quantitative", "scale": {"domain": [-35, 10], "nice": false, "zero": false},
              "axis": {"orient": "left", "offset": -8, "values": [-35,-34,-33,-32,-31,-30,-29,-28,-27,-26,-25,-24,-23,-22,-21,-20,-19,-18,-17,-16,-15,-14,-13,-12,-11,-10,-9,-8,-7,-6,-5,-4,-3,-2,-1,0,1,2,3,4,5,6,7,8,9,10], "grid": false, "labels": false, "tickSize": 4, "tickWidth": 1.5, "title": null}}
          }
        },
        {
          "data": {"name": "b_obs"},
          "mark": {"type": "point", "shape": "triangle-up", "filled": true, "size": 36, "opacity": 1, "strokeWidth": 0},
          "encoding": {
            "x": {"field": "t", "type": "quantitative", "scale": {"domain": [0, 6.253], "range": [8, 1071], "nice": false, "zero": false},
              "axis": {"orient": "top", "values": [0,0.0833,0.1667,0.25,0.3333,0.4167,0.5,0.5833,0.6667,0.75,0.8333,0.9167,1,1.0833,1.1667,1.25,1.3333,1.4167,1.5,1.5833,1.6667,1.75,1.8333,1.9167,2,2.0833,2.1667,2.25,2.3333,2.4167,2.5,2.5833,2.6667,2.75,2.8333,2.9167,3,3.0833,3.1667,3.25,3.3333,3.4167,3.5,3.5833,3.6667,3.75,3.8333,3.9167,4,4.0833,4.1667,4.25,4.3333,4.4167,4.5,4.5833,4.6667,4.75,4.8333,4.9167,5,5.0833,5.1667,5.25,5.3333,5.4167,5.5,5.5833,5.6667,5.75,5.8333,5.9167,6,6.0833,6.1667,6.25], "grid": false, "labels": false, "tickSize": 4, "tickWidth": 1.5, "title": null}},
            "y": {"field": "v", "type": "quantitative", "scale": {"domain": [-35, 10], "nice": false, "zero": false},
              "axis": {"orient": "right", "values": [-35,-34,-33,-32,-31,-30,-29,-28,-27,-26,-25,-24,-23,-22,-21,-20,-19,-18,-17,-16,-15,-14,-13,-12,-11,-10,-9,-8,-7,-6,-5,-4,-3,-2,-1,0,1,2,3,4,5,6,7,8,9,10], "grid": false, "labels": false, "tickSize": 4, "tickWidth": 1.5, "title": null}},
            "color": {"field": "s", "type": "nominal", "scale": {"domain": ["SPI+NPI", "AP"], "range": ["#8B0000", "#00FFFF"]}, "legend": null}
          }
        },
        {
          "data": {"values": [{"t": 3.088, "v": 7.76, "label": "trend and residual data"}]},
          "mark": {"type": "text", "font": "Open Sans", "fontSize": 36, "color": "black", "baseline": "middle", "align": "center"},
          "encoding": {
            "x": {"field": "t", "type": "quantitative", "scale": {"domain": [0, 6.253], "range": [8, 1071], "nice": false, "zero": false}, "axis": null},
            "y": {"field": "v", "type": "quantitative", "scale": {"domain": [-35, 10], "nice": false, "zero": false}, "axis": null},
            "text": {"field": "label"}
          }
        },
        {
          "data": {"values": [{"t": 5.547, "v": 7.05, "label": "(b)"}]},
          "mark": {"type": "text", "font": "Open Sans", "fontSize": 44, "color": "black", "baseline": "middle", "align": "center"},
          "encoding": {
            "x": {"field": "t", "type": "quantitative", "scale": {"domain": [0, 6.253], "range": [8, 1071], "nice": false, "zero": false}, "axis": null},
            "y": {"field": "v", "type": "quantitative", "scale": {"domain": [-35, 10], "nice": false, "zero": false}, "axis": null},
            "text": {"field": "label"}
          }
        },
        {
          "data": {"values": [{"t": 4.98, "v": -0.2, "label": "NPI+SPI (3.38 ± 0.36 cm/yr)"}, {"t": 1.118, "v": -29.05, "label": "AP (5.11± 0.41cm/yr)"}]},
          "mark": {"type": "text", "font": "Open Sans", "fontSize": 31, "color": "black", "baseline": "middle", "align": "center"},
          "encoding": {
            "x": {"field": "t", "type": "quantitative", "scale": {"domain": [0, 6.253], "range": [8, 1071], "nice": false, "zero": false}, "axis": null},
            "y": {"field": "v", "type": "quantitative", "scale": {"domain": [-35, 10], "nice": false, "zero": false}, "axis": null},
            "text": {"field": "label"}
          }
        }
      ]
    }
  ]
}
